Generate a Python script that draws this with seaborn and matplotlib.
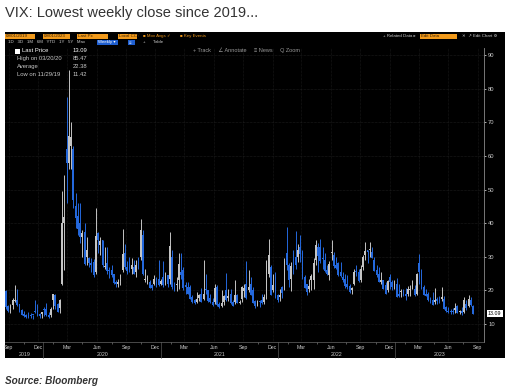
import pandas as pd
import numpy as np
import matplotlib
matplotlib.use("Agg")
import matplotlib.pyplot as plt
import matplotlib.dates as mdates
import matplotlib.transforms as mtrans
from matplotlib.patches import Rectangle
import seaborn as sns

# ---------------- DATA ----------------
# VIX weekly candles, weeks ending Fridays 2019-09-06 .. 2023-09-01
FIRST_WEEK = "2019-09-06"
LAST_WEEK = "2023-09-01"

open_px = [
    # 2019
    19.7, 15.3, 14.9, 15.6, 16.9, 17.2, 15.9, 14.1, 13.1, 12.8, 12.7, 12.7, 12.7, 14.0, 14.2, 13.0, 12.9,
    # 2020
    14.5, 14.5, 12.8, 12.6, 17.0, 18.5, 16.0, 14.9, 22.0, 40.0, 62.0, 58.0, 63.0, 62.0, 45.0, 42.0,
    40.0, 36.0, 37.5, 30.0, 29.5, 28.0, 28.5, 25.5, 37.0, 33.5, 35.0, 27.0, 28.0, 26.0, 26.0, 24.8,
    22.5, 21.9, 22.9, 26.0, 31.0, 27.0, 27.8, 26.5, 27.0, 25.5, 28.5, 30.0, 36.5, 23.0, 23.0, 22.5,
    21.5, 22.0, 23.5, 23.5,
    # 2021
    22.0, 24.0, 22.5, 24.5, 23.5, 30.0, 21.5, 21.5, 23.0, 25.5, 26.0, 21.5, 20.9, 21.0, 18.0, 17.0,
    16.5, 17.8, 19.0, 17.5, 20.5, 20.0, 17.7, 16.5, 16.6, 21.0, 16.0, 15.5, 16.4, 20.0, 17.7, 18.9,
    16.5, 16.5, 18.5, 16.3, 17.5, 19.7, 22.0, 20.0, 22.0, 20.0, 16.8, 15.5, 16.5, 17.0, 16.5, 18.5,
    25.0, 27.0, 20.0, 24.0, 18.5,
    # 2022
    18.0, 21.0, 21.0, 31.0, 27.5, 23.5, 28.0, 30.0, 30.0, 33.0, 31.5, 24.0, 22.0, 20.5, 23.0, 23.0,
    29.0, 33.0, 33.0, 29.5, 29.0, 26.0, 24.5, 31.0, 30.5, 27.5, 28.0, 25.5, 24.0, 23.5, 22.0, 21.3,
    20.0, 22.0, 25.5, 25.5, 23.0, 27.0, 30.5, 32.0, 32.0, 31.5, 29.0, 26.0, 25.0, 22.5, 23.0, 21.5,
    20.0, 24.0, 22.5, 21.5,
    # 2023
    22.0, 19.0, 19.5, 19.8, 19.0, 19.0, 20.0, 21.0, 20.5, 19.0, 28.0, 25.0, 21.0, 19.0, 19.0, 17.5,
    17.0, 16.5, 17.5, 17.2, 17.5, 17.5, 15.0, 13.8, 14.0, 14.0, 14.2, 15.5, 13.5, 14.0, 13.7, 15.9,
    15.5, 17.2, 15.5,
]

high_px = [
    # 2019
    20.2, 15.6, 15.9, 17.8, 21.5, 20.5, 15.9, 14.6, 14.0, 13.0, 13.5, 13.3, 12.7, 17.0, 16.1, 13.2, 13.4,
    # 2020
    15.0, 16.2, 13.7, 15.0, 19.0, 19.0, 16.3, 17.5, 49.5, 54.4, 77.6, 85.47, 70.0, 63.0, 49.0, 46.0,
    46.0, 38.0, 40.0, 36.0, 30.0, 29.5, 29.3, 44.4, 37.5, 36.0, 35.0, 33.0, 33.0, 27.0, 27.5, 25.0,
    23.0, 23.3, 25.0, 38.3, 33.7, 28.8, 29.9, 29.5, 29.0, 29.0, 30.0, 41.2, 38.1, 26.5, 24.5, 23.0,
    22.0, 24.5, 24.0, 29.0,
    # 2021
    23.5, 28.6, 25.5, 24.5, 37.5, 32.0, 22.5, 24.0, 31.0, 31.0, 27.0, 22.5, 22.6, 21.6, 18.5, 17.5,
    19.5, 19.0, 20.6, 28.9, 25.0, 20.0, 19.0, 17.8, 22.0, 21.5, 16.5, 20.0, 18.5, 25.1, 20.3, 20.5,
    17.2, 23.2, 19.0, 17.2, 21.3, 22.0, 28.8, 26.0, 24.0, 21.0, 17.0, 17.0, 17.0, 19.0, 19.0, 29.0,
    35.3, 27.5, 25.0, 25.5, 18.9,
    # 2022
    20.5, 21.3, 29.5, 38.9, 28.0, 28.5, 32.0, 37.8, 33.9, 36.5, 32.0, 24.5, 22.0, 23.5, 25.0, 29.5,
    35.0, 34.0, 35.3, 33.0, 31.0, 27.5, 28.6, 35.0, 31.5, 30.0, 28.5, 28.5, 25.5, 25.0, 24.5, 22.0,
    21.0, 26.5, 27.7, 26.5, 27.5, 30.5, 34.5, 32.0, 34.5, 33.0, 30.0, 27.5, 27.0, 25.5, 23.0, 22.5,
    23.1, 25.0, 23.0, 23.1,
    # 2023
    23.8, 22.0, 20.5, 20.5, 20.8, 21.3, 21.5, 23.2, 21.5, 25.1, 30.8, 26.5, 21.5, 20.5, 19.5, 18.0,
    19.4, 20.7, 18.1, 18.4, 21.0, 18.3, 15.5, 15.1, 14.5, 14.8, 16.3, 15.6, 14.1, 15.0, 18.0, 17.0,
    18.5, 18.0, 15.8,
]

low_px = [
    # 2019
    14.5, 13.7, 13.3, 14.5, 16.5, 15.5, 13.5, 12.6, 12.1, 11.9, 11.9, 11.8, 11.42, 13.3, 12.3, 11.9, 11.75,
    # 2020
    12.5, 12.3, 11.8, 12.1, 14.5, 14.6, 13.5, 13.4, 21.5, 26.0, 46.0, 56.0, 56.0, 44.5, 38.5, 36.5,
    34.0, 30.0, 27.5, 27.5, 27.0, 25.5, 24.0, 25.0, 31.0, 30.5, 27.1, 26.5, 25.0, 23.8, 24.0, 22.0,
    21.0, 21.0, 21.5, 25.5, 26.5, 25.0, 25.5, 25.0, 24.8, 24.0, 26.5, 29.0, 24.5, 22.4, 21.9, 20.6,
    20.1, 21.5, 21.0, 21.3,
    # 2021
    21.5, 21.0, 21.5, 20.9, 21.9, 20.5, 19.7, 19.9, 20.5, 23.4, 20.0, 19.0, 18.8, 17.3, 16.2, 16.1,
    16.3, 16.8, 16.5, 17.0, 19.0, 16.6, 16.2, 15.4, 15.9, 15.5, 14.8, 15.0, 15.7, 16.9, 16.7, 16.0,
    15.3, 16.0, 16.3, 15.9, 16.5, 18.0, 17.5, 19.5, 18.5, 16.2, 14.8, 15.3, 15.1, 16.0, 15.9, 17.5,
    24.0, 18.5, 19.5, 17.8, 16.5,
    # 2022
    16.9, 17.7, 20.0, 26.0, 21.0, 19.9, 25.0, 26.5, 28.5, 28.5, 23.5, 20.7, 18.6, 19.5, 20.0, 20.4,
    27.5, 25.5, 28.0, 26.5, 25.5, 24.5, 23.2, 29.0, 26.6, 26.3, 24.3, 24.0, 22.5, 20.7, 20.5, 19.2,
    18.9, 21.5, 24.2, 22.5, 22.6, 26.0, 29.0, 28.2, 30.0, 29.5, 25.7, 24.0, 22.4, 22.0, 20.4, 18.9,
    19.5, 20.5, 20.0, 20.5,
    # 2023
    18.0, 18.1, 18.0, 18.4, 17.1, 18.4, 18.4, 20.5, 18.4, 18.5, 21.8, 20.5, 18.6, 18.2, 16.9, 16.3,
    15.7, 16.0, 16.1, 16.2, 16.8, 14.5, 13.5, 13.2, 12.9, 12.9, 13.3, 13.2, 13.0, 12.7, 13.4, 14.2,
    15.0, 15.3, 12.9,
]

close_px = [
    # 2019
    15.00, 13.74, 15.32, 17.22, 17.04, 15.58, 14.25, 12.65, 12.30, 12.07, 12.05, 12.34, 12.62, 13.62, 12.63, 12.51, 13.43,
    # 2020
    14.02, 12.56, 12.10, 14.56, 18.84, 15.47, 13.68, 17.08, 40.11, 41.94, 57.83, 66.04, 65.54, 46.80, 41.67, 38.15,
    35.93, 37.19, 27.98, 31.89, 28.16, 27.51, 24.52, 36.09, 35.12, 34.73, 27.68, 27.29, 25.68, 25.84, 24.46, 22.21,
    22.05, 22.54, 22.96, 30.75, 26.87, 25.83, 26.38, 27.63, 25.00, 27.41, 27.55, 38.02, 24.86, 23.10, 23.70, 20.84,
    20.79, 23.31, 21.57, 21.53,
    # 2021
    22.75, 21.56, 24.34, 21.91, 33.09, 20.87, 19.97, 22.05, 27.95, 24.66, 20.69, 20.95, 18.86, 17.33, 16.69, 16.25,
    17.33, 18.61, 16.69, 18.81, 20.15, 16.76, 16.42, 15.65, 20.70, 15.62, 15.07, 16.18, 18.45, 17.20, 18.24, 16.15,
    15.45, 18.56, 16.39, 16.41, 20.95, 20.81, 17.75, 21.15, 18.77, 16.30, 15.43, 16.26, 16.48, 16.29, 17.91, 28.62,
    30.67, 18.69, 21.57, 17.96, 17.22,
    # 2022
    18.76, 19.19, 28.85, 27.66, 23.22, 27.36, 27.75, 27.59, 31.98, 30.75, 23.87, 20.81, 19.63, 21.16, 24.37, 28.21,
    33.40, 30.19, 28.87, 29.43, 25.72, 24.79, 27.75, 31.13, 27.23, 26.70, 24.64, 24.23, 23.03, 21.33, 21.15, 19.53,
    20.60, 25.56, 25.47, 22.79, 26.30, 29.92, 31.62, 31.36, 32.02, 29.69, 25.75, 24.55, 22.52, 23.12, 20.50, 19.06,
    22.83, 22.62, 20.87, 21.67,
    # 2023
    18.13, 18.35, 19.85, 18.51, 18.33, 20.53, 20.02, 21.67, 18.49, 24.80, 25.51, 21.74, 18.70, 18.40, 17.07, 16.77,
    15.78, 17.19, 16.93, 16.81, 17.95, 14.60, 13.83, 13.54, 13.44, 13.59, 14.83, 13.34, 13.60, 13.33, 17.10, 14.84,
    17.30, 15.68, 13.09,
]

y_ticks = [10, 20, 30, 40, 50, 60, 70, 80, 90]
legend_rows = [("Last Price", "13.09"), ("High on 03/20/20", "85.47"),
               ("Average", "22.38"), ("Low on 11/29/19", "11.42")]
years = [2019, 2020, 2021, 2022, 2023]
# ----------------------------------------

df = pd.DataFrame({
    "week": pd.date_range(FIRST_WEEK, LAST_WEEK, freq="W-FRI"),
    "open": open_px, "high": high_px, "low": low_px, "close": close_px,
})
df["up"] = df["close"] >= df["open"]

BLUE = "#2468dc"
WHITE = "#c4c4c4"
ORANGE = "#f19a1c"
GREY = "#c8c8c8"

sns.set_theme(style="dark", rc={"axes.facecolor": "black"})
plt.rcParams["font.family"] = ["Liberation Sans", "DejaVu Sans"]

W, H = 509, 391
fig = plt.figure(figsize=(W / 100, H / 100), dpi=100)
fig.patch.set_facecolor("white")


def px(x, y):
    return x / W, 1 - y / H


# title and black terminal panel
fig.text(*px(5, 13), "VIX: Lowest weekly close since 2019...", fontsize=10.5,
         color="#333333", va="center", ha="left")
fig.patches.append(Rectangle(px(5, 358), 500 / W, 326 / H, transform=fig.transFigure,
                             facecolor="black", edgecolor="none", zorder=-5))
fig.text(*px(5, 381), "Source: Bloomberg", fontsize=7.2, fontweight="bold", fontstyle="italic",
         fontstretch="condensed", family=["Liberation Sans Narrow", "Liberation Sans", "DejaVu Sans"],
         color="#333333", va="center")


# toolbar rows
def box(x0, x1, y, text, fc=ORANGE, tc="#3a2000"):
    fig.patches.append(Rectangle(px(x0, y + 2.6), (x1 - x0) / W, 5 / H, transform=fig.transFigure,
                                 facecolor=fc, edgecolor="none", zorder=1))
    fig.text(*px(x0 + 1, y), text, fontsize=3.2, color=tc, va="center", ha="left", zorder=2)


box(5, 35, 36, "09/01/2019")
box(43, 70, 36, "09/01/2023")
box(77, 108, 36, "Last Px")
box(118, 137, 36, "Local CCY")
fig.text(*px(143, 36), "\u25a0 Mov Avgs \u2713", fontsize=3.2, color=ORANGE, va="center")
fig.text(*px(180, 36), "\u25a0 Key Events", fontsize=3.2, color=ORANGE, va="center")
fig.text(*px(383, 36), "+ Related Data \u25b8", fontsize=3.2, color=GREY, va="center")
box(420, 457, 36, "Edit Data")
fig.text(*px(462, 36), "\u2715  \u2197 Edit Chart \u2699", fontsize=3.2, color=GREY, va="center")

fig.text(*px(8, 42), "1D   3D   1M   6M   YTD   1Y   5Y   Max", fontsize=3.2, color=GREY, va="center")
box(97, 118, 42, "Weekly \u25be", fc="#1f5fd0", tc="white")
box(128, 135, 42, "\u2261", fc="#1f5fd0", tc="white")
fig.text(*px(143, 42), "+      Table", fontsize=3.2, color=GREY, va="center")

# chart tools
fig.text(*px(193, 50), "+ Track     \u2220 Annotate     \u2261 News     Q Zoom",
         fontsize=4, color="#9a9a9a", va="center")

# legend
for i, (label, val) in enumerate(legend_rows):
    yy = 51 + i * 7.7
    col = "white" if i == 0 else GREY
    fig.text(*px(22 if i == 0 else 17, yy), label, fontsize=4.2, color=col, va="center")
    fig.text(*px(73, yy), val, fontsize=4.2, color=col, va="center")
fig.patches.append(Rectangle(px(15, 53.5), 5 / W, 5 / H, transform=fig.transFigure,
                             facecolor="white", edgecolor="none", zorder=2))

# main axes
ax = fig.add_axes([5 / W, (H - 342) / H, 479 / W, 294 / H])
ax.set_zorder(5)
ax.patch.set_alpha(0)
ax.set_xlim(pd.Timestamp("2019-09-03"), pd.Timestamp("2023-10-05"))
ax.set_ylim(4.65, 92.1)

# candles
colors = np.where(df["up"], WHITE, BLUE)
ax.vlines(df["week"], df["low"], df["high"], colors=colors, linewidth=0.7, zorder=3)
body_low = df[["open", "close"]].min(axis=1)
body_h = (df["close"] - df["open"]).abs().clip(lower=0.3)
ax.bar(df["week"], body_h, bottom=body_low, width=5.6, color=colors, linewidth=0, zorder=4)

# y axis on right
ax.yaxis.tick_right()
ax.set_yticks(y_ticks)
ax.set_yticklabels([str(v) for v in y_ticks], fontsize=4.2, color=GREY)
ax.tick_params(axis="y", direction="out", length=1.5, width=0.6, color=GREY, pad=1.5, right=True)
for v in y_ticks:
    ax.axhline(v, color="#333333", linewidth=0.4, linestyle=(0, (1, 1.5)), zorder=1)

# x axis: month labels centred mid-month, small ticks between them
label_months = pd.date_range("2019-09-01", "2023-09-01", freq="3MS") + pd.Timedelta(days=14)
ax.set_xticks(label_months)
ax.set_xticklabels([d.strftime("%b") for d in label_months], fontsize=3.8, color=GREY)
ax.tick_params(axis="x", length=0, pad=2)
ax.xaxis.set_minor_locator(mdates.MonthLocator(bymonth=[2, 5, 8, 11]))
ax.tick_params(axis="x", which="minor", length=1.5, width=0.5, color="#777777", bottom=True)
for d in label_months:
    ax.axvline(d, color="#2c2c2c", linewidth=0.4, linestyle=(0, (1, 1.5)), zorder=1)

trans = mtrans.blended_transform_factory(ax.transData, ax.transAxes)
xmin = pd.Timestamp("2019-09-03")
xmax = pd.Timestamp("2023-10-05")
for yr in years:
    start = max(pd.Timestamp(f"{yr}-01-01"), xmin)
    end = min(pd.Timestamp(f"{yr + 1}-01-01"), xmax)
    mid = start + (end - start) / 2
    ax.text(mid, -0.041, str(yr), transform=trans, fontsize=3.8, color=GREY,
            ha="center", va="center", clip_on=False)
    if yr > years[0]:
        ax.plot([pd.Timestamp(f"{yr}-01-01")] * 2, [0, -0.054], transform=trans,
                color="#555555", linewidth=0.5, clip_on=False)

# last price tag
ytrans = mtrans.blended_transform_factory(ax.transAxes, ax.transData)
ax.text(1.008, close_px[-1], f"{close_px[-1]:.2f}", transform=ytrans, fontsize=3.8,
        color="black", va="center", ha="left",
        bbox=dict(boxstyle="square,pad=0.25", facecolor="white", edgecolor="none"))

for side in ["top", "left"]:
    ax.spines[side].set_visible(False)
ax.spines["right"].set_color("#8a8a8a")
ax.spines["right"].set_linewidth(0.6)
ax.spines["bottom"].set_color("#666666")
ax.spines["bottom"].set_linewidth(0.5)
ax.grid(False)

fig.savefig("out.png", dpi=100, facecolor=fig.get_facecolor())
